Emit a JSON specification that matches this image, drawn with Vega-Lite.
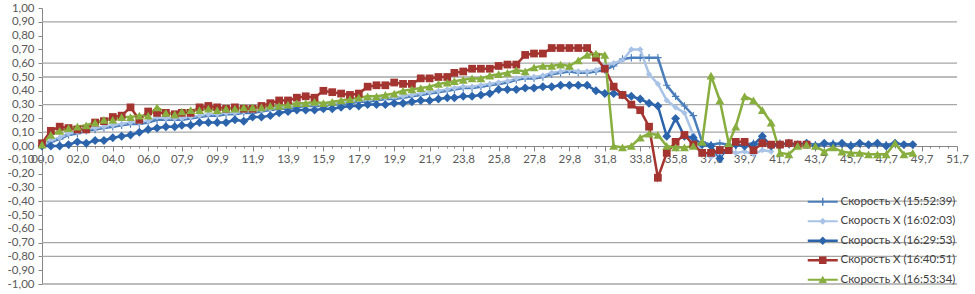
{
"$schema": "https://vega.github.io/schema/vega-lite/v6.json",
"width": 915, "height": 276,
"autosize": "none",
"padding": {"left": 42, "top": 8, "right": 18, "bottom": 10},
"background": "white",
"config": {"view": {"stroke": null}, "font": "Lato"},
"resolve": {"scale": {"y": "independent"}},
"data": {"values": [
{"s":"15:52:39","t":0,"v":0.00},{"s":"15:52:39","t":0.5,"v":0.03},{"s":"15:52:39","t":1,"v":0.05},{"s":"15:52:39","t":1.5,"v":0.08},{"s":"15:52:39","t":2,"v":0.09},{"s":"15:52:39","t":2.5,"v":0.11},{"s":"15:52:39","t":3,"v":0.12},{"s":"15:52:39","t":3.5,"v":0.13},{"s":"15:52:39","t":4,"v":0.14},{"s":"15:52:39","t":4.5,"v":0.15},
{"s":"15:52:39","t":5,"v":0.16},{"s":"15:52:39","t":5.5,"v":0.16},{"s":"15:52:39","t":6,"v":0.17},{"s":"15:52:39","t":6.5,"v":0.19},{"s":"15:52:39","t":7,"v":0.19},{"s":"15:52:39","t":7.5,"v":0.19},{"s":"15:52:39","t":7.9,"v":0.19},{"s":"15:52:39","t":8.4,"v":0.20},{"s":"15:52:39","t":8.9,"v":0.21},{"s":"15:52:39","t":9.4,"v":0.22},
{"s":"15:52:39","t":9.9,"v":0.22},{"s":"15:52:39","t":10.4,"v":0.23},{"s":"15:52:39","t":10.9,"v":0.23},{"s":"15:52:39","t":11.4,"v":0.24},{"s":"15:52:39","t":11.9,"v":0.24},{"s":"15:52:39","t":12.4,"v":0.25},{"s":"15:52:39","t":12.9,"v":0.26},{"s":"15:52:39","t":13.4,"v":0.27},{"s":"15:52:39","t":13.9,"v":0.27},{"s":"15:52:39","t":14.4,"v":0.28},
{"s":"15:52:39","t":14.9,"v":0.29},{"s":"15:52:39","t":15.4,"v":0.29},{"s":"15:52:39","t":15.9,"v":0.29},{"s":"15:52:39","t":16.4,"v":0.30},{"s":"15:52:39","t":16.9,"v":0.30},{"s":"15:52:39","t":17.4,"v":0.31},{"s":"15:52:39","t":17.9,"v":0.32},{"s":"15:52:39","t":18.4,"v":0.32},{"s":"15:52:39","t":18.9,"v":0.33},{"s":"15:52:39","t":19.4,"v":0.34},
{"s":"15:52:39","t":19.9,"v":0.34},{"s":"15:52:39","t":20.4,"v":0.35},{"s":"15:52:39","t":20.9,"v":0.36},{"s":"15:52:39","t":21.4,"v":0.37},{"s":"15:52:39","t":21.9,"v":0.38},{"s":"15:52:39","t":22.4,"v":0.39},{"s":"15:52:39","t":22.9,"v":0.40},{"s":"15:52:39","t":23.3,"v":0.41},{"s":"15:52:39","t":23.8,"v":0.42},{"s":"15:52:39","t":24.3,"v":0.42},
{"s":"15:52:39","t":24.8,"v":0.43},{"s":"15:52:39","t":25.3,"v":0.44},{"s":"15:52:39","t":25.8,"v":0.45},{"s":"15:52:39","t":26.3,"v":0.46},{"s":"15:52:39","t":26.8,"v":0.48},{"s":"15:52:39","t":27.3,"v":0.49},{"s":"15:52:39","t":27.8,"v":0.49},{"s":"15:52:39","t":28.3,"v":0.50},{"s":"15:52:39","t":28.8,"v":0.52},{"s":"15:52:39","t":29.3,"v":0.53},
{"s":"15:52:39","t":29.8,"v":0.54},{"s":"15:52:39","t":30.3,"v":0.53},{"s":"15:52:39","t":30.8,"v":0.53},{"s":"15:52:39","t":31.3,"v":0.54},{"s":"15:52:39","t":31.8,"v":0.55},{"s":"15:52:39","t":32.3,"v":0.58},{"s":"15:52:39","t":32.8,"v":0.63},{"s":"15:52:39","t":33.3,"v":0.64},{"s":"15:52:39","t":33.8,"v":0.64},{"s":"15:52:39","t":34.3,"v":0.64},
{"s":"15:52:39","t":34.8,"v":0.64},{"s":"15:52:39","t":35.3,"v":0.44},{"s":"15:52:39","t":35.8,"v":0.36},{"s":"15:52:39","t":36.3,"v":0.29},{"s":"15:52:39","t":36.8,"v":0.22},{"s":"15:52:39","t":37.3,"v":0.03},{"s":"15:52:39","t":37.8,"v":0.01},{"s":"15:52:39","t":38.3,"v":0.02},{"s":"15:52:39","t":38.8,"v":0.01},{"s":"15:52:39","t":39.2,"v":0.00},
{"s":"15:52:39","t":39.7,"v":0.01},{"s":"15:52:39","t":40.2,"v":0.02},{"s":"15:52:39","t":40.7,"v":0.01},{"s":"15:52:39","t":41.2,"v":0.01},{"s":"15:52:39","t":41.7,"v":0.02},{"s":"15:52:39","t":42.2,"v":0.01},{"s":"15:52:39","t":42.7,"v":0.01},{"s":"15:52:39","t":43.2,"v":0.02},{"s":"15:52:39","t":43.7,"v":0.01},{"s":"15:52:39","t":44.2,"v":0.01},
{"s":"15:52:39","t":44.7,"v":0.02},{"s":"15:52:39","t":45.2,"v":0.01},{"s":"15:52:39","t":45.7,"v":0.01},{"s":"15:52:39","t":46.2,"v":0.02},{"s":"15:52:39","t":46.7,"v":0.01},{"s":"15:52:39","t":47.2,"v":0.01},{"s":"15:52:39","t":47.7,"v":0.01},{"s":"15:52:39","t":48.2,"v":0.02},{"s":"15:52:39","t":48.7,"v":0.01},{"s":"15:52:39","t":49.2,"v":0.01},

{"s":"16:02:03","t":0,"v":0.00},{"s":"16:02:03","t":0.5,"v":0.04},{"s":"16:02:03","t":1,"v":0.06},{"s":"16:02:03","t":1.5,"v":0.09},{"s":"16:02:03","t":2,"v":0.10},{"s":"16:02:03","t":2.5,"v":0.12},{"s":"16:02:03","t":3,"v":0.13},{"s":"16:02:03","t":3.5,"v":0.14},{"s":"16:02:03","t":4,"v":0.15},{"s":"16:02:03","t":4.5,"v":0.16},
{"s":"16:02:03","t":5,"v":0.17},{"s":"16:02:03","t":5.5,"v":0.17},{"s":"16:02:03","t":6,"v":0.18},{"s":"16:02:03","t":6.5,"v":0.21},{"s":"16:02:03","t":7,"v":0.20},{"s":"16:02:03","t":7.5,"v":0.20},{"s":"16:02:03","t":7.9,"v":0.20},{"s":"16:02:03","t":8.4,"v":0.21},{"s":"16:02:03","t":8.9,"v":0.22},{"s":"16:02:03","t":9.4,"v":0.23},
{"s":"16:02:03","t":9.9,"v":0.23},{"s":"16:02:03","t":10.4,"v":0.24},{"s":"16:02:03","t":10.9,"v":0.24},{"s":"16:02:03","t":11.4,"v":0.25},{"s":"16:02:03","t":11.9,"v":0.25},{"s":"16:02:03","t":12.4,"v":0.26},{"s":"16:02:03","t":12.9,"v":0.27},{"s":"16:02:03","t":13.4,"v":0.28},{"s":"16:02:03","t":13.9,"v":0.28},{"s":"16:02:03","t":14.4,"v":0.29},
{"s":"16:02:03","t":14.9,"v":0.30},{"s":"16:02:03","t":15.4,"v":0.30},{"s":"16:02:03","t":15.9,"v":0.30},{"s":"16:02:03","t":16.4,"v":0.31},{"s":"16:02:03","t":16.9,"v":0.31},{"s":"16:02:03","t":17.4,"v":0.32},{"s":"16:02:03","t":17.9,"v":0.33},{"s":"16:02:03","t":18.4,"v":0.33},{"s":"16:02:03","t":18.9,"v":0.34},{"s":"16:02:03","t":19.4,"v":0.35},
{"s":"16:02:03","t":19.9,"v":0.35},{"s":"16:02:03","t":20.4,"v":0.36},{"s":"16:02:03","t":20.9,"v":0.37},{"s":"16:02:03","t":21.4,"v":0.38},{"s":"16:02:03","t":21.9,"v":0.39},{"s":"16:02:03","t":22.4,"v":0.40},{"s":"16:02:03","t":22.9,"v":0.41},{"s":"16:02:03","t":23.3,"v":0.42},{"s":"16:02:03","t":23.8,"v":0.43},{"s":"16:02:03","t":24.3,"v":0.43},
{"s":"16:02:03","t":24.8,"v":0.44},{"s":"16:02:03","t":25.3,"v":0.45},{"s":"16:02:03","t":25.8,"v":0.46},{"s":"16:02:03","t":26.3,"v":0.47},{"s":"16:02:03","t":26.8,"v":0.49},{"s":"16:02:03","t":27.3,"v":0.50},{"s":"16:02:03","t":27.8,"v":0.50},{"s":"16:02:03","t":28.3,"v":0.51},{"s":"16:02:03","t":28.8,"v":0.53},{"s":"16:02:03","t":29.3,"v":0.54},
{"s":"16:02:03","t":29.8,"v":0.55},{"s":"16:02:03","t":30.3,"v":0.54},{"s":"16:02:03","t":30.8,"v":0.54},{"s":"16:02:03","t":31.3,"v":0.55},{"s":"16:02:03","t":31.8,"v":0.58},{"s":"16:02:03","t":32.3,"v":0.60},{"s":"16:02:03","t":32.8,"v":0.62},{"s":"16:02:03","t":33.3,"v":0.70},{"s":"16:02:03","t":33.8,"v":0.70},{"s":"16:02:03","t":34.3,"v":0.52},
{"s":"16:02:03","t":34.8,"v":0.45},{"s":"16:02:03","t":35.3,"v":0.33},{"s":"16:02:03","t":35.8,"v":0.28},{"s":"16:02:03","t":36.3,"v":0.24},{"s":"16:02:03","t":36.8,"v":0.08},{"s":"16:02:03","t":37.3,"v":-0.05},{"s":"16:02:03","t":37.8,"v":-0.08},{"s":"16:02:03","t":38.3,"v":-0.06},{"s":"16:02:03","t":38.8,"v":-0.03},{"s":"16:02:03","t":39.2,"v":-0.05},
{"s":"16:02:03","t":39.7,"v":-0.04},{"s":"16:02:03","t":40.2,"v":-0.06},{"s":"16:02:03","t":40.7,"v":-0.03},{"s":"16:02:03","t":41.2,"v":-0.04},

{"s":"16:29:53","t":0,"v":0.00},{"s":"16:29:53","t":0.5,"v":0.00},{"s":"16:29:53","t":1,"v":0.00},{"s":"16:29:53","t":1.5,"v":0.01},{"s":"16:29:53","t":2,"v":0.03},{"s":"16:29:53","t":2.5,"v":0.02},{"s":"16:29:53","t":3,"v":0.04},{"s":"16:29:53","t":3.5,"v":0.04},{"s":"16:29:53","t":4,"v":0.06},{"s":"16:29:53","t":4.5,"v":0.07},
{"s":"16:29:53","t":5,"v":0.08},{"s":"16:29:53","t":5.5,"v":0.10},{"s":"16:29:53","t":6,"v":0.12},{"s":"16:29:53","t":6.5,"v":0.13},{"s":"16:29:53","t":7,"v":0.14},{"s":"16:29:53","t":7.5,"v":0.14},{"s":"16:29:53","t":7.9,"v":0.15},{"s":"16:29:53","t":8.4,"v":0.15},{"s":"16:29:53","t":8.9,"v":0.17},{"s":"16:29:53","t":9.4,"v":0.17},
{"s":"16:29:53","t":9.9,"v":0.17},{"s":"16:29:53","t":10.4,"v":0.17},{"s":"16:29:53","t":10.9,"v":0.19},{"s":"16:29:53","t":11.4,"v":0.18},{"s":"16:29:53","t":11.9,"v":0.21},{"s":"16:29:53","t":12.4,"v":0.21},{"s":"16:29:53","t":12.9,"v":0.22},{"s":"16:29:53","t":13.4,"v":0.24},{"s":"16:29:53","t":13.9,"v":0.25},{"s":"16:29:53","t":14.4,"v":0.26},
{"s":"16:29:53","t":14.9,"v":0.26},{"s":"16:29:53","t":15.4,"v":0.26},{"s":"16:29:53","t":15.9,"v":0.27},{"s":"16:29:53","t":16.4,"v":0.27},{"s":"16:29:53","t":16.9,"v":0.28},{"s":"16:29:53","t":17.4,"v":0.29},{"s":"16:29:53","t":17.9,"v":0.29},{"s":"16:29:53","t":18.4,"v":0.30},{"s":"16:29:53","t":18.9,"v":0.30},{"s":"16:29:53","t":19.4,"v":0.30},
{"s":"16:29:53","t":19.9,"v":0.31},{"s":"16:29:53","t":20.4,"v":0.31},{"s":"16:29:53","t":20.9,"v":0.32},{"s":"16:29:53","t":21.4,"v":0.33},{"s":"16:29:53","t":21.9,"v":0.33},{"s":"16:29:53","t":22.4,"v":0.34},{"s":"16:29:53","t":22.9,"v":0.35},{"s":"16:29:53","t":23.3,"v":0.35},{"s":"16:29:53","t":23.8,"v":0.36},{"s":"16:29:53","t":24.3,"v":0.36},
{"s":"16:29:53","t":24.8,"v":0.37},{"s":"16:29:53","t":25.3,"v":0.38},{"s":"16:29:53","t":25.8,"v":0.41},{"s":"16:29:53","t":26.3,"v":0.41},{"s":"16:29:53","t":26.8,"v":0.41},{"s":"16:29:53","t":27.3,"v":0.42},{"s":"16:29:53","t":27.8,"v":0.42},{"s":"16:29:53","t":28.3,"v":0.43},{"s":"16:29:53","t":28.8,"v":0.43},{"s":"16:29:53","t":29.3,"v":0.44},
{"s":"16:29:53","t":29.8,"v":0.44},{"s":"16:29:53","t":30.3,"v":0.44},{"s":"16:29:53","t":30.8,"v":0.44},{"s":"16:29:53","t":31.3,"v":0.40},{"s":"16:29:53","t":31.8,"v":0.38},{"s":"16:29:53","t":32.3,"v":0.38},{"s":"16:29:53","t":32.8,"v":0.37},{"s":"16:29:53","t":33.3,"v":0.36},{"s":"16:29:53","t":33.8,"v":0.34},{"s":"16:29:53","t":34.3,"v":0.31},
{"s":"16:29:53","t":34.8,"v":0.29},{"s":"16:29:53","t":35.3,"v":0.07},{"s":"16:29:53","t":35.8,"v":0.20},{"s":"16:29:53","t":36.3,"v":0.07},{"s":"16:29:53","t":36.8,"v":0.06},{"s":"16:29:53","t":37.3,"v":0.01},{"s":"16:29:53","t":37.8,"v":0.00},{"s":"16:29:53","t":38.3,"v":-0.09},{"s":"16:29:53","t":38.8,"v":0.00},{"s":"16:29:53","t":39.2,"v":0.01},
{"s":"16:29:53","t":39.7,"v":0.00},{"s":"16:29:53","t":40.2,"v":0.01},{"s":"16:29:53","t":40.7,"v":0.07},{"s":"16:29:53","t":41.2,"v":0.00},{"s":"16:29:53","t":41.7,"v":0.01},{"s":"16:29:53","t":42.2,"v":0.02},{"s":"16:29:53","t":42.7,"v":0.01},{"s":"16:29:53","t":43.2,"v":0.02},{"s":"16:29:53","t":43.7,"v":0.00},{"s":"16:29:53","t":44.2,"v":0.02},
{"s":"16:29:53","t":44.7,"v":0.01},{"s":"16:29:53","t":45.2,"v":0.02},{"s":"16:29:53","t":45.7,"v":0.00},{"s":"16:29:53","t":46.2,"v":0.02},{"s":"16:29:53","t":46.7,"v":0.01},{"s":"16:29:53","t":47.2,"v":0.02},{"s":"16:29:53","t":47.7,"v":0.00},{"s":"16:29:53","t":48.2,"v":0.02},{"s":"16:29:53","t":48.7,"v":0.01},{"s":"16:29:53","t":49.2,"v":0.01},

{"s":"16:40:51","t":0,"v":0.02},{"s":"16:40:51","t":0.5,"v":0.11},{"s":"16:40:51","t":1,"v":0.14},{"s":"16:40:51","t":1.5,"v":0.13},{"s":"16:40:51","t":2,"v":0.12},{"s":"16:40:51","t":2.5,"v":0.12},{"s":"16:40:51","t":3,"v":0.17},{"s":"16:40:51","t":3.5,"v":0.18},{"s":"16:40:51","t":4,"v":0.21},{"s":"16:40:51","t":4.5,"v":0.22},
{"s":"16:40:51","t":5,"v":0.28},{"s":"16:40:51","t":5.5,"v":0.19},{"s":"16:40:51","t":6,"v":0.25},{"s":"16:40:51","t":6.5,"v":0.24},{"s":"16:40:51","t":7,"v":0.24},{"s":"16:40:51","t":7.5,"v":0.23},{"s":"16:40:51","t":7.9,"v":0.24},{"s":"16:40:51","t":8.4,"v":0.24},{"s":"16:40:51","t":8.9,"v":0.28},{"s":"16:40:51","t":9.4,"v":0.29},
{"s":"16:40:51","t":9.9,"v":0.28},{"s":"16:40:51","t":10.4,"v":0.27},{"s":"16:40:51","t":10.9,"v":0.28},{"s":"16:40:51","t":11.4,"v":0.27},{"s":"16:40:51","t":11.9,"v":0.27},{"s":"16:40:51","t":12.4,"v":0.29},{"s":"16:40:51","t":12.9,"v":0.31},{"s":"16:40:51","t":13.4,"v":0.33},{"s":"16:40:51","t":13.9,"v":0.33},{"s":"16:40:51","t":14.4,"v":0.35},
{"s":"16:40:51","t":14.9,"v":0.36},{"s":"16:40:51","t":15.4,"v":0.35},{"s":"16:40:51","t":15.9,"v":0.40},{"s":"16:40:51","t":16.4,"v":0.39},{"s":"16:40:51","t":16.9,"v":0.38},{"s":"16:40:51","t":17.4,"v":0.37},{"s":"16:40:51","t":17.9,"v":0.38},{"s":"16:40:51","t":18.4,"v":0.43},{"s":"16:40:51","t":18.9,"v":0.44},{"s":"16:40:51","t":19.4,"v":0.44},
{"s":"16:40:51","t":19.9,"v":0.46},{"s":"16:40:51","t":20.4,"v":0.45},{"s":"16:40:51","t":20.9,"v":0.45},{"s":"16:40:51","t":21.4,"v":0.49},{"s":"16:40:51","t":21.9,"v":0.49},{"s":"16:40:51","t":22.4,"v":0.50},{"s":"16:40:51","t":22.9,"v":0.50},{"s":"16:40:51","t":23.3,"v":0.53},{"s":"16:40:51","t":23.8,"v":0.54},{"s":"16:40:51","t":24.3,"v":0.56},
{"s":"16:40:51","t":24.8,"v":0.56},{"s":"16:40:51","t":25.3,"v":0.56},{"s":"16:40:51","t":25.8,"v":0.58},{"s":"16:40:51","t":26.3,"v":0.59},{"s":"16:40:51","t":26.8,"v":0.59},{"s":"16:40:51","t":27.3,"v":0.66},{"s":"16:40:51","t":27.8,"v":0.67},{"s":"16:40:51","t":28.3,"v":0.67},{"s":"16:40:51","t":28.8,"v":0.71},{"s":"16:40:51","t":29.3,"v":0.71},
{"s":"16:40:51","t":29.8,"v":0.71},{"s":"16:40:51","t":30.3,"v":0.71},{"s":"16:40:51","t":30.8,"v":0.71},{"s":"16:40:51","t":31.3,"v":0.64},{"s":"16:40:51","t":31.8,"v":0.56},{"s":"16:40:51","t":32.3,"v":0.43},{"s":"16:40:51","t":32.8,"v":0.37},{"s":"16:40:51","t":33.3,"v":0.30},{"s":"16:40:51","t":33.8,"v":0.26},{"s":"16:40:51","t":34.3,"v":0.14},
{"s":"16:40:51","t":34.8,"v":-0.23},{"s":"16:40:51","t":35.3,"v":-0.05},{"s":"16:40:51","t":35.8,"v":0.03},{"s":"16:40:51","t":36.3,"v":0.08},{"s":"16:40:51","t":36.8,"v":0.01},{"s":"16:40:51","t":37.3,"v":-0.05},{"s":"16:40:51","t":37.8,"v":-0.05},{"s":"16:40:51","t":38.3,"v":-0.03},{"s":"16:40:51","t":38.8,"v":-0.03},{"s":"16:40:51","t":39.2,"v":0.03},
{"s":"16:40:51","t":39.7,"v":0.03},{"s":"16:40:51","t":40.2,"v":-0.03},{"s":"16:40:51","t":40.7,"v":0.02},{"s":"16:40:51","t":41.2,"v":0.01},{"s":"16:40:51","t":41.7,"v":0.01},{"s":"16:40:51","t":42.2,"v":0.02},{"s":"16:40:51","t":42.7,"v":0.01},{"s":"16:40:51","t":43.2,"v":0.01},

{"s":"16:53:34","t":0,"v":0.01},{"s":"16:53:34","t":0.5,"v":0.08},{"s":"16:53:34","t":1,"v":0.11},{"s":"16:53:34","t":1.5,"v":0.13},{"s":"16:53:34","t":2,"v":0.14},{"s":"16:53:34","t":2.5,"v":0.15},{"s":"16:53:34","t":3,"v":0.17},{"s":"16:53:34","t":3.5,"v":0.19},{"s":"16:53:34","t":4,"v":0.19},{"s":"16:53:34","t":4.5,"v":0.21},
{"s":"16:53:34","t":5,"v":0.21},{"s":"16:53:34","t":5.5,"v":0.22},{"s":"16:53:34","t":6,"v":0.22},{"s":"16:53:34","t":6.5,"v":0.28},{"s":"16:53:34","t":7,"v":0.24},{"s":"16:53:34","t":7.5,"v":0.23},{"s":"16:53:34","t":7.9,"v":0.25},{"s":"16:53:34","t":8.4,"v":0.26},{"s":"16:53:34","t":8.9,"v":0.26},{"s":"16:53:34","t":9.4,"v":0.27},
{"s":"16:53:34","t":9.9,"v":0.26},{"s":"16:53:34","t":10.4,"v":0.27},{"s":"16:53:34","t":10.9,"v":0.27},{"s":"16:53:34","t":11.4,"v":0.28},{"s":"16:53:34","t":11.9,"v":0.28},{"s":"16:53:34","t":12.4,"v":0.28},{"s":"16:53:34","t":12.9,"v":0.29},{"s":"16:53:34","t":13.4,"v":0.29},{"s":"16:53:34","t":13.9,"v":0.30},{"s":"16:53:34","t":14.4,"v":0.31},
{"s":"16:53:34","t":14.9,"v":0.31},{"s":"16:53:34","t":15.4,"v":0.32},{"s":"16:53:34","t":15.9,"v":0.31},{"s":"16:53:34","t":16.4,"v":0.32},{"s":"16:53:34","t":16.9,"v":0.33},{"s":"16:53:34","t":17.4,"v":0.34},{"s":"16:53:34","t":17.9,"v":0.35},{"s":"16:53:34","t":18.4,"v":0.36},{"s":"16:53:34","t":18.9,"v":0.36},{"s":"16:53:34","t":19.4,"v":0.37},
{"s":"16:53:34","t":19.9,"v":0.38},{"s":"16:53:34","t":20.4,"v":0.40},{"s":"16:53:34","t":20.9,"v":0.41},{"s":"16:53:34","t":21.4,"v":0.42},{"s":"16:53:34","t":21.9,"v":0.43},{"s":"16:53:34","t":22.4,"v":0.45},{"s":"16:53:34","t":22.9,"v":0.46},{"s":"16:53:34","t":23.3,"v":0.47},{"s":"16:53:34","t":23.8,"v":0.48},{"s":"16:53:34","t":24.3,"v":0.49},
{"s":"16:53:34","t":24.8,"v":0.49},{"s":"16:53:34","t":25.3,"v":0.51},{"s":"16:53:34","t":25.8,"v":0.52},{"s":"16:53:34","t":26.3,"v":0.53},{"s":"16:53:34","t":26.8,"v":0.55},{"s":"16:53:34","t":27.3,"v":0.54},{"s":"16:53:34","t":27.8,"v":0.57},{"s":"16:53:34","t":28.3,"v":0.58},{"s":"16:53:34","t":28.8,"v":0.58},{"s":"16:53:34","t":29.3,"v":0.59},
{"s":"16:53:34","t":29.8,"v":0.58},{"s":"16:53:34","t":30.3,"v":0.62},{"s":"16:53:34","t":30.8,"v":0.66},{"s":"16:53:34","t":31.3,"v":0.67},{"s":"16:53:34","t":31.8,"v":0.66},{"s":"16:53:34","t":32.3,"v":0.00},{"s":"16:53:34","t":32.8,"v":-0.01},{"s":"16:53:34","t":33.3,"v":0.00},{"s":"16:53:34","t":33.8,"v":0.06},{"s":"16:53:34","t":34.3,"v":0.09},
{"s":"16:53:34","t":34.8,"v":0.08},{"s":"16:53:34","t":35.3,"v":0.00},{"s":"16:53:34","t":35.8,"v":-0.01},{"s":"16:53:34","t":36.3,"v":-0.01},{"s":"16:53:34","t":36.8,"v":0.00},{"s":"16:53:34","t":37.3,"v":0.03},{"s":"16:53:34","t":37.8,"v":0.51},{"s":"16:53:34","t":38.3,"v":0.33},{"s":"16:53:34","t":38.8,"v":0.02},{"s":"16:53:34","t":39.2,"v":0.14},
{"s":"16:53:34","t":39.7,"v":0.36},{"s":"16:53:34","t":40.2,"v":0.33},{"s":"16:53:34","t":40.7,"v":0.26},{"s":"16:53:34","t":41.2,"v":0.17},{"s":"16:53:34","t":41.7,"v":-0.05},{"s":"16:53:34","t":42.2,"v":-0.06},{"s":"16:53:34","t":42.7,"v":0.00},{"s":"16:53:34","t":43.2,"v":0.01},{"s":"16:53:34","t":43.7,"v":0.00},{"s":"16:53:34","t":44.2,"v":-0.04},
{"s":"16:53:34","t":44.7,"v":-0.01},{"s":"16:53:34","t":45.2,"v":-0.04},{"s":"16:53:34","t":45.7,"v":-0.05},{"s":"16:53:34","t":46.2,"v":-0.05},{"s":"16:53:34","t":46.7,"v":-0.06},{"s":"16:53:34","t":47.2,"v":-0.06},{"s":"16:53:34","t":47.7,"v":-0.06},{"s":"16:53:34","t":48.2,"v":0.02},{"s":"16:53:34","t":48.7,"v":-0.06},{"s":"16:53:34","t":49.2,"v":-0.05}
]},
"layer": [
  {"data": {"values": [{"g":0.9},{"g":0.6},{"g":0.5},{"g":0.3},{"g":0.1},{"g":-0.4},{"g":-0.7},{"g":-0.8},{"g":-1.0}]},
   "mark": {"type": "rule", "color": "#a6a6a6", "strokeWidth": 1.3},
   "encoding": {
     "y": {"field": "g", "type": "quantitative", "scale": {"domain": [-1, 1], "nice": false}, "axis": null}
   }},
  {"mark": {"type": "line", "strokeWidth": 2.5},
   "encoding": {
     "x": {"field": "t", "type": "quantitative",
       "scale": {"domain": [0, 51.7], "nice": false, "zero": false},
       "axis": {
         "title": null, "grid": false, "offset": -138,
         "values": [0,0.5,1,1.5,2,2.5,3,3.5,4,4.5,5,5.5,6,6.5,7,7.5,7.9,8.4,8.9,9.4,9.9,10.4,10.9,11.4,11.9,12.4,12.9,13.4,13.9,14.4,14.9,15.4,15.9,16.4,16.9,17.4,17.9,18.4,18.9,19.4,19.9,20.4,20.9,21.4,21.9,22.4,22.9,23.3,23.8,24.3,24.8,25.3,25.8,26.3,26.8,27.3,27.8,28.3,28.8,29.3,29.8,30.3,30.8,31.3,31.8,32.3,32.8,33.3,33.8,34.3,34.8,35.3,35.8,36.3,36.8,37.3,37.8,38.3,38.8,39.2,39.7,40.2,40.7,41.2,41.7,42.2,42.7,43.2,43.7,44.2,44.7,45.2,45.7,46.2,46.7,47.2,47.7,48.2,48.7,49.2,49.7,50.2,50.7,51.2,51.7],
         "labelExpr": "indexof([0,2,4,6,7.9,9.9,11.9,13.9,15.9,17.9,19.9,21.9,23.8,25.8,27.8,29.8,31.8,33.8,35.8,37.8,39.7,41.7,43.7,45.7,47.7,49.7,51.7], datum.value) >= 0 ? replace(format(datum.value, '04.1f'), '.', ',') : ''",
         "tickSize": {"condition": {"test": "indexof([0,2,4,6,7.9,9.9,11.9,13.9,15.9,17.9,19.9,21.9,23.8,25.8,27.8,29.8,31.8,33.8,35.8,37.8,39.7,41.7,43.7,45.7,47.7,49.7,51.7], datum.value) >= 0", "value": 5}, "value": 2},
         "labelOverlap": false, "labelBound": false, "labelFlush": false,
         "labelFont": "Lato", "labelFontSize": 11.5, "labelColor": "#595959", "labelPadding": 2,
         "domainColor": "#868686", "tickColor": "#868686"
       }},
     "y": {"field": "v", "type": "quantitative",
       "scale": {"domain": [-1, 1], "nice": false},
       "axis": {
         "title": null, "grid": false,
         "values": [-1,-0.9,-0.8,-0.7,-0.6,-0.5,-0.4,-0.3,-0.2,-0.1,0,0.1,0.2,0.3,0.4,0.5,0.6,0.7,0.8,0.9,1],
         "labelExpr": "replace(replace(format(datum.value, '.2f'), '.', ','), '\u2212', '-')",
         "tickSize": 4, "domainColor": "#868686", "tickColor": "#868686",
         "labelFont": "Lato", "labelFontSize": 11.5, "labelColor": "#595959", "labelPadding": 4,
         "labelOverlap": false
       }},
     "stroke": {"field": "s", "type": "nominal",
       "scale": {"domain": ["15:52:39","16:02:03","16:29:53","16:40:51","16:53:34"], "range": ["#4A7EBB","#A9C3E6","#2C64AC","#A3342F","#87AE3F"]},
       "legend": {
         "title": null, "orient": "none", "legendX": 775, "legendY": 188, "padding": 0,
         "symbolSize": 100, "labelOffset": 12, "rowPadding": 6.5, "symbolStrokeWidth": 0,
         "labelFont": "Lato", "labelFontSize": 11.5, "labelColor": "#404040",
         "labelExpr": "'Скорость X (' + datum.label + ')'",
         "symbolType": {"expr": "datum.value === '15:52:39' ? 'M-3,-0.22H3V0.22H-3Z M-0.14,-0.8H0.14V0.8H-0.14Z' : datum.value === '16:02:03' ? 'M-3,-0.22H3V0.22H-3Z M0,-0.7L0.7,0L0,0.7L-0.7,0Z' : datum.value === '16:29:53' ? 'M-3,-0.25H3V0.25H-3Z M0,-0.85L0.85,0L0,0.85L-0.85,0Z' : datum.value === '16:40:51' ? 'M-3,-0.25H3V0.25H-3Z M-0.75,-0.75H0.75V0.75H-0.75Z' : 'M-3,-0.22H3V0.22H-3Z M0,-0.8L0.85,0.65H-0.85Z'"}
       }}
   }},
  {"mark": {"type": "point", "filled": true, "opacity": 1,
     "size": {"expr": "datum.s === '16:02:03' ? 40 : datum.s === '15:52:39' ? 55 : datum.s === '16:40:51' ? 60 : 80"},
     "shape": {"expr": "datum.s === '15:52:39' ? 'M-1,-0.15H1V0.15H-1Z M-0.15,-1H0.15V1H-0.15Z' : datum.s === '16:40:51' ? 'square' : datum.s === '16:53:34' ? 'triangle-up' : 'diamond'"}},
   "encoding": {
     "x": {"field": "t", "type": "quantitative",
       "scale": {"domain": [0, 51.7], "nice": false, "zero": false},
       "axis": {
         "title": null, "grid": false, "offset": -138,
         "values": [0,0.5,1,1.5,2,2.5,3,3.5,4,4.5,5,5.5,6,6.5,7,7.5,7.9,8.4,8.9,9.4,9.9,10.4,10.9,11.4,11.9,12.4,12.9,13.4,13.9,14.4,14.9,15.4,15.9,16.4,16.9,17.4,17.9,18.4,18.9,19.4,19.9,20.4,20.9,21.4,21.9,22.4,22.9,23.3,23.8,24.3,24.8,25.3,25.8,26.3,26.8,27.3,27.8,28.3,28.8,29.3,29.8,30.3,30.8,31.3,31.8,32.3,32.8,33.3,33.8,34.3,34.8,35.3,35.8,36.3,36.8,37.3,37.8,38.3,38.8,39.2,39.7,40.2,40.7,41.2,41.7,42.2,42.7,43.2,43.7,44.2,44.7,45.2,45.7,46.2,46.7,47.2,47.7,48.2,48.7,49.2,49.7,50.2,50.7,51.2,51.7],
         "labelExpr": "indexof([0,2,4,6,7.9,9.9,11.9,13.9,15.9,17.9,19.9,21.9,23.8,25.8,27.8,29.8,31.8,33.8,35.8,37.8,39.7,41.7,43.7,45.7,47.7,49.7,51.7], datum.value) >= 0 ? replace(format(datum.value, '04.1f'), '.', ',') : ''",
         "tickSize": {"condition": {"test": "indexof([0,2,4,6,7.9,9.9,11.9,13.9,15.9,17.9,19.9,21.9,23.8,25.8,27.8,29.8,31.8,33.8,35.8,37.8,39.7,41.7,43.7,45.7,47.7,49.7,51.7], datum.value) >= 0", "value": 5}, "value": 2},
         "labelOverlap": false, "labelBound": false, "labelFlush": false,
         "labelFont": "Lato", "labelFontSize": 11.5, "labelColor": "#595959", "labelPadding": 2,
         "domainColor": "#868686", "tickColor": "#868686"
       }},
     "y": {"field": "v", "type": "quantitative",
       "scale": {"domain": [-1, 1], "nice": false}, "axis": null},
     "color": {"field": "s", "type": "nominal",
       "scale": {"domain": ["15:52:39","16:02:03","16:29:53","16:40:51","16:53:34"], "range": ["#4A7EBB","#A9C3E6","#2C64AC","#A3342F","#87AE3F"]},
       "legend": {
         "title": null, "orient": "none", "legendX": 775, "legendY": 188, "padding": 0,
         "symbolSize": 100, "labelOffset": 12, "rowPadding": 6.5, "symbolStrokeWidth": 0,
         "labelFont": "Lato", "labelFontSize": 11.5, "labelColor": "#404040",
         "labelExpr": "'Скорость X (' + datum.label + ')'",
         "symbolType": {"expr": "datum.value === '15:52:39' ? 'M-3,-0.22H3V0.22H-3Z M-0.14,-0.8H0.14V0.8H-0.14Z' : datum.value === '16:02:03' ? 'M-3,-0.22H3V0.22H-3Z M0,-0.7L0.7,0L0,0.7L-0.7,0Z' : datum.value === '16:29:53' ? 'M-3,-0.25H3V0.25H-3Z M0,-0.85L0.85,0L0,0.85L-0.85,0Z' : datum.value === '16:40:51' ? 'M-3,-0.25H3V0.25H-3Z M-0.75,-0.75H0.75V0.75H-0.75Z' : 'M-3,-0.22H3V0.22H-3Z M0,-0.8L0.85,0.65H-0.85Z'"}
       }}
   }}
]
}
